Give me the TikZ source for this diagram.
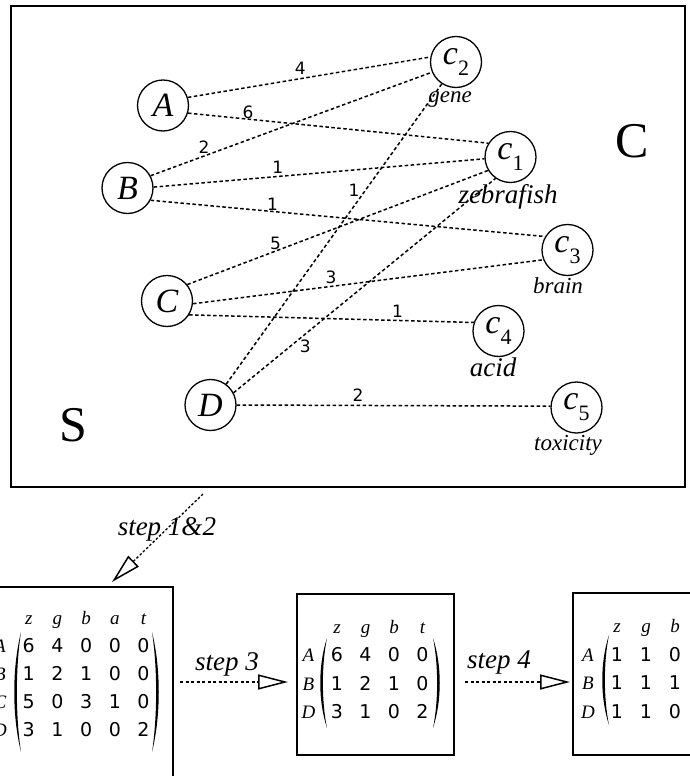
\documentclass[tikz,border=0pt]{standalone}
\usepackage{fontspec}
\setmainfont{Liberation Serif}
\newfontfamily\monofont{DejaVu Sans}
\usetikzlibrary{arrows.meta,matrix,calc}
\newcommand\cwithsub[1]{c\raisebox{-11pt}{\fontsize{22}{22}\selectfont\upshape #1}}
\newcommand\lparen[3]{\fill (#1,#2) .. controls ({#1-9},{#2+0.3*(#3-#2)}) and ({#1-9},{#3-0.3*(#3-#2)}) .. (#1,#3) .. controls ({#1-5.5},{#3-0.3*(#3-#2)}) and ({#1-5.5},{#2+0.3*(#3-#2)}) .. cycle;}
\newcommand\rparen[3]{\fill (#1,#2) .. controls ({#1+9},{#2+0.3*(#3-#2)}) and ({#1+9},{#3-0.3*(#3-#2)}) .. (#1,#3) .. controls ({#1+5.5},{#3-0.3*(#3-#2)}) and ({#1+5.5},{#2+0.3*(#3-#2)}) .. cycle;}
\begin{document}
\begin{tikzpicture}[x=1pt,y=-1pt,
  vert/.style={circle, draw, line width=1.3pt, minimum size=51pt, inner sep=0pt, font=\fontsize{34}{34}\selectfont\itshape},
  edge/.style={line width=1.5pt, dash pattern=on 3.5pt off 2.5pt},
  elab/.style={font=\monofont\fontsize{17}{17}\selectfont, inner sep=0pt},
  word/.style={font=\fontsize{23}{23}\selectfont\itshape, inner sep=0pt},
  bigword/.style={font=\fontsize{27}{27}\selectfont\itshape, inner sep=0pt},
  setlab/.style={font=\fontsize{50}{50}\selectfont, inner sep=0pt},
  frame/.style={draw, line width=1.8pt, inner sep=0pt, outer sep=0pt},
  mbox/.style={draw, line width=1.6pt, inner sep=0pt, outer sep=0pt},
  steparrow/.style={line width=1.5pt, dash pattern=on 3pt off 2.5pt, -{Triangle[open, length=30pt, width=15pt, line width=1.5pt]}},
  steplab/.style={font=\fontsize{27}{27}\selectfont\itshape, inner sep=0pt},
  mat/.style={matrix of nodes, inner sep=0pt, outer sep=0pt, column sep=0pt, row sep=0pt,
    nodes={inner sep=0pt, text height=13pt, text depth=0pt, anchor=center, font=\monofont\fontsize{19}{19}\selectfont},
    column 1/.style={nodes={font=\fontsize{19}{19}\selectfont\itshape}},
    row 1/.style={nodes={font=\fontsize{19}{19}\selectfont\itshape}}}
]
\useasboundingbox (0,0) rectangle (690,776);

% top frame
\node[frame, minimum width=674pt, minimum height=481pt] (bigbox) at (348,246.5) {};
\node[setlab] (Slab) at (73,425) {S};
\node[setlab] (Clab) at (632,141) {C};

% vertices
\node[vert] (A) at (163,105.5) {A};
\node[vert] (B) at (127.5,188) {B};
\node[vert] (C) at (167,301) {C};
\node[vert] (D) at (210.5,405) {D};
\node[vert] (c2) at (456,62) {\cwithsub{2}};
\node[vert] (c1) at (510.5,157) {\cwithsub{1}};
\node[vert] (c3) at (567.5,250) {\cwithsub{3}};
\node[vert] (c4) at (498.5,331) {\cwithsub{4}};
\node[vert] (c5) at (576.5,407.5) {\cwithsub{5}};

\node[word] (wgene) at (450,100) {gene};
\node[bigword] (wzebra) at (508,197) {zebrafish};
\node[word] (wbrain) at (558,286) {brain};
\node[bigword] (wacid) at (493,367) {acid};
\node[word] (wtox) at (568,445) {toxicity};

% weighted edges
\draw[edge] (A.18) -- node[elab, pos=.464, above=3pt]{4} (c2.169);
\draw[edge] (A.-17) -- node[elab, pos=.20, above=0pt]{6} (c1.148);
\draw[edge] (B.28) -- node[elab, pos=.19, above=2pt]{2} (c2.-157);
\draw[edge] (B.2) -- node[elab, pos=.375, above=2pt]{1} (c1.184);
\draw[edge] (B.-28) -- node[elab, pos=.309, above=0pt]{1} (c3.149);
\draw[edge] (C.39) -- node[elab, pos=.293, above=1pt]{5} (c1.211);
\draw[edge] (C.-6) -- node[elab, pos=.394, above=2pt]{3} (c3.202);
\draw[edge] (C.-32) -- node[elab, pos=.732, above=2pt]{1} (c4.161);
\draw[edge] (D.53) -- node[elab, pos=.645, left=5pt]{1} (c2.237);
\draw[edge] (D.28) -- node[elab, pos=.25, anchor=north west]{3} (c1.235);
\draw[edge] (D.0) -- node[elab, pos=.387, above=3pt]{2} (c5.177);

% matrix boxes
\node[mbox, minimum width=183pt, minimum height=213pt] (box1) at (81.5,693.5) {};
\node[mbox, minimum width=157pt, minimum height=161pt] (box2) at (375.5,674.5) {};
\node[mbox, minimum width=137pt, minimum height=162pt] (box3) at (641.5,674) {};

\matrix (m1) [mat, nodes={minimum width=28.7pt, minimum height=28pt}] at (71.75,674) {
   & z & g & b & a & t \\
 A & 6 & 4 & 0 & 0 & 0 \\
 B & 1 & 2 & 1 & 0 & 0 \\
 C & 5 & 0 & 3 & 1 & 0 \\
 D & 3 & 1 & 0 & 0 & 2 \\
};
\lparen{21}{632}{752}
\rparen{152}{632}{752}

\matrix (m2) [mat, nodes={minimum width=28.5pt, minimum height=28.3pt}] at (365.5,669.5) {
   & z & g & b & t \\
 A & 6 & 4 & 0 & 0 \\
 B & 1 & 2 & 1 & 0 \\
 D & 3 & 1 & 0 & 2 \\
};
\lparen{327}{638}{728}
\rparen{433}{638}{728}

\matrix (m3) [mat, nodes={minimum width=29pt, minimum height=28.5pt}] at (631.5,668.75) {
   & z & g & b \\
 A & 1 & 1 & 0 \\
 B & 1 & 1 & 1 \\
 D & 1 & 1 & 0 \\
};
\lparen{609}{635}{725}

% step arrows
\coordinate (arow) at (0,682);
\draw[steparrow, shorten <=7pt, shorten >=9pt] (box1.east |- arow) -- node[steplab, pos=.435, above=5pt]{step 3} (box2.west |- arow);
\draw[steparrow, shorten <=11pt, shorten >=3pt] (box2.east |- arow) -- node[steplab, pos=.378, above=7pt]{step 4} (box3.west |- arow);
\draw[steparrow, dash pattern=on 2.5pt off 2pt, line width=1.3pt] ($(bigbox.south west)+(192,7)$) -- node[steplab, pos=.397]{step 1\&2} ($(box1.north west)+(122,-5)$);
\end{tikzpicture}
\end{document}
